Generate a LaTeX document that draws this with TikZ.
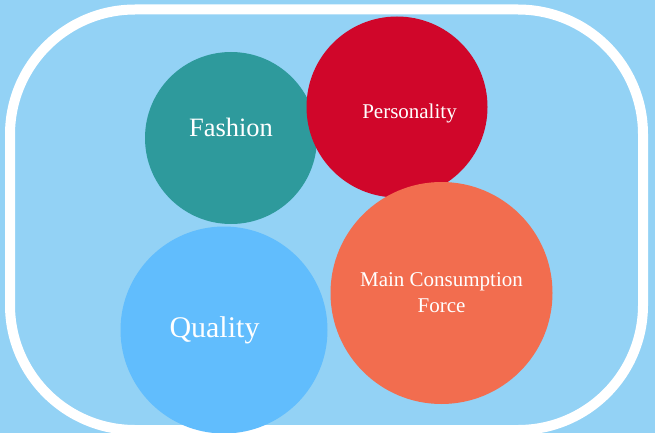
\documentclass[tikz,border=0pt]{standalone}
\usepackage{fontspec}
\setmainfont{Liberation Serif}
\usetikzlibrary{positioning}

\definecolor{skyback}{HTML}{93D2F5}
\definecolor{tealball}{HTML}{2E9A9C}
\definecolor{redball}{HTML}{D0062A}
\definecolor{orangeball}{HTML}{F26D4F}
\definecolor{blueball}{HTML}{61BDFD}

\begin{document}
\begin{tikzpicture}[
    x=1pt, y=-1pt,
    bubble/.style={circle, fill=#1, draw=none, inner sep=0pt},
    word/.style={text=white, anchor=base, align=center, inner sep=0pt},
]

% ===== Background and frame =====
\useasboundingbox (0,0) rectangle (655,433);
\fill[skyback] (0,0) rectangle (655,433);
\clip (0,0) rectangle (655,433);
\draw[white, line width=10pt, rounded corners=125pt] (10,9.5) rectangle (643,430);

% ===== Circles =====
\node[bubble=tealball, minimum size=172pt] (fashion) at (231,138) {};
\node[bubble=redball, minimum size=181pt] (personality) at (397,107) {};
\node[bubble=orangeball, minimum size=222pt] (mainforce) at (441.5,293) {};
\node[bubble=blueball, minimum size=207pt] (quality) at (224,330) {};

% ===== Labels =====
\node[word, font=\fontsize{26.5}{30}\selectfont] (fashiontxt) at (231,136) {Fashion};
\node[word, font=\fontsize{21}{26}\selectfont] (personalitytxt) at (409.5,118) {Personality};
\node[word, font=\fontsize{21}{26}\selectfont] (mainforcetxt) at (441.5,312) {Main Consumption\\Force};
\node[word, font=\fontsize{30}{34}\selectfont] (qualitytxt) at (214.5,337) {Quality};

\end{tikzpicture}
\end{document}
